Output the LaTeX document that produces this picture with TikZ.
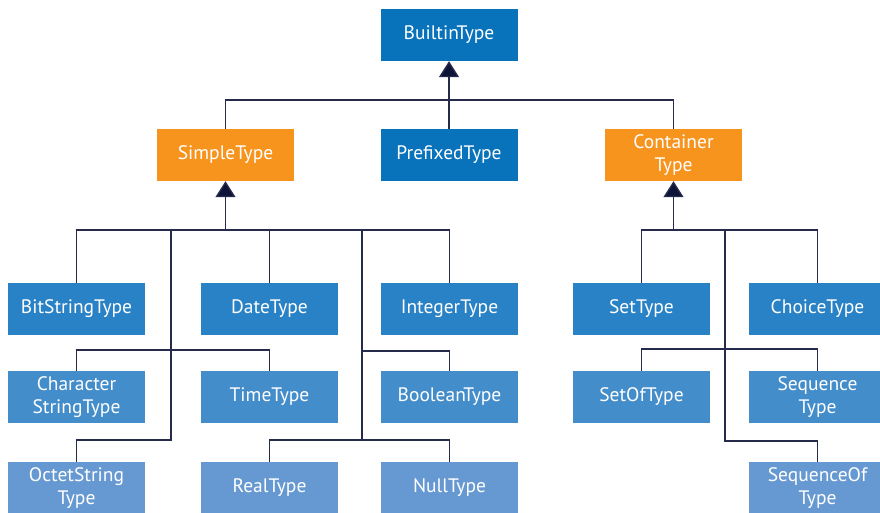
\documentclass[tikz,border=0pt]{standalone}
\usepackage{fontspec}
\usepackage{tikz}
\usetikzlibrary{arrows.meta}
\newfontfamily\TreeFont{PT Sans}
\definecolor{TreeTop}{HTML}{0872BB}
\definecolor{TreeOrange}{HTML}{F7941E}
\definecolor{TreeRowA}{HTML}{2A82C6}
\definecolor{TreeRowB}{HTML}{448DCB}
\definecolor{TreeRowC}{HTML}{6699D1}
\definecolor{TreeLine}{HTML}{262B4C}
\definecolor{TreeTip}{HTML}{0D1438}
\newcommand{\BoxText}{\TreeFont\fontsize{19.5}{23}\selectfont}
\tikzset{
  typebox/.style={minimum width=137pt,minimum height=52pt,inner sep=0pt,
    align=center,text=white,font=\BoxText},
  link/.style={draw=TreeLine,line width=1.4pt},
  inherits/.style={link,-{Triangle[width=20pt,length=16pt,fill=TreeTip]}}
}

\begin{document}
\begin{tikzpicture}[x=1pt,y=-1pt]
  % pixel grid of the 880 x 512 figure, y counted downwards
  \path[use as bounding box] (0,0) rectangle (880,512);

  \node[typebox,fill=TreeTop] (builtin) at (449,35) {BuiltinType};
  \node[typebox,fill=TreeOrange] (simple) at (225.5,155) {SimpleType};
  \node[typebox,fill=TreeTop] (prefixed) at (449,155) {PrefixedType};
  \node[typebox,fill=TreeOrange] (container) at (673.5,155) {Container\\Type};

  \foreach \nm/\xx/\txt in {bitstr/76.5/BitStringType, date/269.5/DateType,
      integer/449.5/IntegerType, set/641.5/SetType, choice/817.5/ChoiceType}
    \node[typebox,fill=TreeRowA] (\nm) at (\xx,309) {\txt};
  \foreach \nm/\xx/\txt in {charstr/76.5/{Character\\StringType}, time/269.5/TimeType,
      boolean/449.5/BooleanType, setof/641.5/SetOfType, sequence/817.5/{Sequence\\Type}}
    \node[typebox,fill=TreeRowB] (\nm) at (\xx,397) {\txt};
  \foreach \nm/\xx/\txt in {octet/76.5/{OctetString\\Type}, real/269.5/RealType,
      null/449.5/NullType, seqof/817.5/{SequenceOf\\Type}}
    \node[typebox,fill=TreeRowC] (\nm) at (\xx,488) {\txt};

  % top level
  \coordinate (topbus) at (449,100);
  \draw[link] (simple.north) |- (topbus) -| (container.north);
  \draw[link] (prefixed.north) -- (topbus);
  \draw[inherits] (topbus) -- (builtin.south);

  % simple types
  \coordinate (sbus) at (225.5,230);
  \coordinate (strunkA) at (171,230);
  \coordinate (sjA) at (171,350);
  \coordinate (sjAend) at (171,440);
  \coordinate (strunkB) at (362,230);
  \coordinate (sjB) at (362,351);
  \coordinate (sjBend) at (362,440);
  \draw[link] (bitstr.north) |- (sbus) -| (integer.north);
  \draw[link] (date.north) -- (date.north |- sbus);
  \draw[link] (strunkA) -- (sjAend) -| (octet.north);
  \draw[link] (charstr.north) |- (sjA) -| (time.north);
  \draw[link] (strunkB) -- (sjBend);
  \draw[link] (sjB) -| (boolean.north);
  \draw[link] (real.north) |- (sjBend) -| (null.north);
  \draw[inherits] (sbus) -- (simple.south);

  % container types
  \coordinate (cbus) at (673.5,230);
  \coordinate (ctrunk) at (725,230);
  \coordinate (cj) at (725,349);
  \coordinate (cjend) at (725,441);
  \draw[link] (set.north) |- (cbus) -| (choice.north);
  \draw[link] (ctrunk) -- (cjend) -| (seqof.north);
  \draw[link] (setof.north) |- (cj) -| (sequence.north);
  \draw[inherits] (cbus) -- (container.south);
\end{tikzpicture}
\end{document}
